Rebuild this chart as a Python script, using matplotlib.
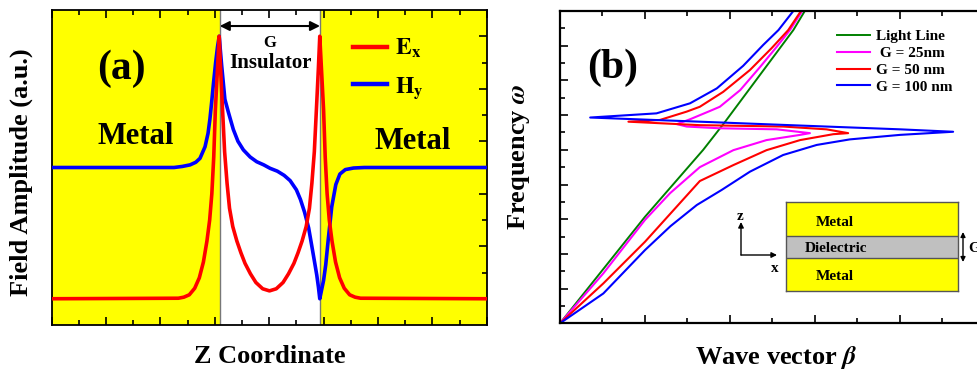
import numpy as np
import matplotlib
matplotlib.use("Agg")
import matplotlib.pyplot as plt
from matplotlib.ticker import MultipleLocator, FixedLocator
from matplotlib.lines import Line2D
from matplotlib.patches import FancyArrowPatch

plt.rcParams['font.family'] = ['Liberation Serif', 'DejaVu Serif']
plt.rcParams['font.weight'] = 'bold'
plt.rcParams['axes.labelweight'] = 'bold'
plt.rcParams['mathtext.fontset'] = 'stix'

# ---- panel (a): field profiles across the metal/insulator/metal gap ----
gap_left, gap_right = 6.18, 9.87

ex_z = [0, 4.66, 4.86, 5.06, 5.26, 5.43, 5.58, 5.71, 5.81, 5.89, 5.96, 6.02, 6.10, 6.16,
        6.21, 6.27, 6.36, 6.45, 6.54, 6.66, 6.81, 6.96, 7.11, 7.31, 7.51, 7.76, 8.01,
        8.26, 8.51, 8.71, 8.91, 9.06, 9.21, 9.36, 9.48, 9.57, 9.66, 9.75, 9.81, 9.86,
        9.92, 10.0, 10.06, 10.13, 10.21, 10.31, 10.44, 10.59, 10.76, 10.96, 11.16, 11.36, 16]
ex_val = [1.0, 1.02, 1.06, 1.15, 1.4, 1.8, 2.4, 3.2, 4.0, 5.0, 6.4, 8.2, 9.8, 11.0,
          9.8, 8.5, 6.6, 5.4, 4.45, 3.75, 3.2, 2.75, 2.35, 1.95, 1.62, 1.38, 1.3,
          1.38, 1.62, 1.95, 2.35, 2.75, 3.2, 3.75, 4.45, 5.4, 6.6, 8.5, 9.8, 11.0,
          9.8, 8.2, 6.4, 5.0, 4.0, 3.2, 2.4, 1.8, 1.4, 1.15, 1.06, 1.02, 1.0]

hy_z = [0, 4.5, 4.8, 5.09, 5.3, 5.455, 5.64, 5.75, 5.82, 5.88, 5.95, 6.03, 6.1, 6.16,
        6.25, 6.37, 6.5, 6.68, 6.85, 7.05, 7.3, 7.54, 7.8, 8.03, 8.3, 8.55, 8.77, 9.0,
        9.15, 9.3, 9.45, 9.56, 9.66, 9.75, 9.81, 9.86,
        9.92, 10.0, 10.08, 10.17, 10.3, 10.45, 10.6, 10.8, 11.1, 11.5, 16]
hy_val = [6.0, 6.0, 6.04, 6.1, 6.2, 6.35, 6.79, 7.3, 7.85, 8.45, 9.2, 10.0, 10.6, 11.0,
          9.9, 8.6, 8.1, 7.45, 7.0, 6.67, 6.4, 6.22, 6.1, 5.97, 5.86, 5.7, 5.5, 5.15,
          4.78, 4.3, 3.7, 3.05, 2.45, 1.9, 1.45, 1.0,
          1.3, 1.7, 2.3, 3.24, 4.5, 5.35, 5.75, 5.92, 5.98, 6.0, 6.0]

# ---- panel (b): dispersion curves ----
light_beta = [0, 2.0, 3.37, 3.88, 5.49, 5.76]
light_omega = [0, 3.07, 5.0, 5.8, 8.45, 9.0]

g25_beta = [0, 1.02, 2.0, 2.59, 3.29, 4.08, 4.86, 5.65, 5.88, 5.10, 3.76, 2.98, 2.75,
            3.06, 3.53, 3.76, 4.24, 4.71, 5.10, 5.41, 5.70]
g25_omega = [0, 1.44, 2.98, 3.75, 4.5, 4.99, 5.28, 5.43, 5.48, 5.59, 5.62, 5.67, 5.74,
             5.88, 6.12, 6.24, 6.72, 7.39, 7.97, 8.45, 9.0]

g50_beta = [0, 1.02, 2.0, 3.29, 4.08, 4.86, 5.65, 6.43, 6.78, 6.27, 5.25, 3.29, 1.61,
            2.35, 2.98, 3.29, 3.84, 4.47, 4.98, 5.37, 5.67]
g50_omega = [0, 1.15, 2.35, 4.1, 4.56, 4.99, 5.28, 5.45, 5.48, 5.59, 5.67, 5.71, 5.81,
             5.86, 6.10, 6.24, 6.67, 7.30, 7.93, 8.45, 9.0]

g100_beta = [0, 1.02, 2.0, 2.6, 3.22, 3.8, 4.47, 5.25, 6.04, 6.82, 8.0, 9.25, 8.0, 6.27,
             3.29, 0.71, 2.27, 3.06, 3.69, 4.31, 4.78, 5.14, 5.49]
g100_omega = [0, 0.86, 2.11, 2.8, 3.41, 3.84, 4.37, 4.85, 5.14, 5.30, 5.43, 5.52, 5.59, 5.67,
              5.81, 5.93, 6.05, 6.34, 6.77, 7.42, 8.02, 8.45, 9.0]

legend_b = ['Light Line', ' G = 25nm', 'G = 50 nm', 'G = 100 nm']

W, H = 978, 369
fig = plt.figure(figsize=(W / 100, H / 100), dpi=100)

# ================= (a) =================
ax = fig.add_axes([51.7 / W, 1 - 325 / H, 435 / W, 315 / H])
ax.set_xlim(0, 16)
ax.set_ylim(0, 12)
ax.axvspan(0, gap_left, color='#ffff00', lw=0, zorder=0)
ax.axvspan(gap_right, 16, color='#ffff00', lw=0, zorder=0)
ax.axvline(gap_left, color='#777777', lw=1, zorder=1)
ax.axvline(gap_right, color='#777777', lw=1, zorder=1)

ax.plot(hy_z, hy_val, color='#0000ff', lw=2.6, zorder=3)
ax.plot(ex_z, ex_val, color='#ff0000', lw=2.6, zorder=4)

ax.annotate('', xy=(gap_left, 11.39), xytext=(gap_right, 11.39),
            arrowprops=dict(arrowstyle='<|-|>', color='black', lw=1.5,
                            mutation_scale=14, shrinkA=0, shrinkB=0))
ax.text(8.03, 10.74, 'G', ha='center', va='center', fontsize=12)
ax.text(8.03, 10.0, 'Insulator', ha='center', va='center', fontsize=15)
ax.text(2.58, 9.78, '(a)', ha='center', va='center', fontsize=30)
ax.text(3.1, 7.17, 'Metal', ha='center', va='center', fontsize=22)
ax.text(13.26, 6.98, 'Metal', ha='center', va='center', fontsize=22)

handles = [Line2D([], [], color='#ff0000', lw=3.2), Line2D([], [], color='#0000ff', lw=3.2)]
ax.legend(handles, [r'$\mathbf{E_x}$', r'$\mathbf{H_y}$'], loc='upper left',
          bbox_to_anchor=(0.692, 0.915), frameon=False, fontsize=17,
          handlelength=1.45, handletextpad=0.35, labelspacing=0.62,
          borderpad=0, borderaxespad=0)

ax.xaxis.set_major_locator(MultipleLocator(2))
ax.xaxis.set_minor_locator(MultipleLocator(1))
ax.yaxis.set_major_locator(FixedLocator([1, 3, 5, 7, 9, 11]))
ax.yaxis.set_minor_locator(FixedLocator([2, 4, 6, 8, 10]))
ax.tick_params(which='both', direction='in', top=True, right=True, left=False,
               labelbottom=False, labelleft=False, width=1.2)
ax.tick_params(which='major', length=6)
ax.tick_params(which='minor', length=3.5)
for s in ax.spines.values():
    s.set_linewidth(1.3)

ax.set_xlabel('Z Coordinate', fontsize=19, fontweight='bold')
ax.xaxis.set_label_coords(0.502, -0.063)
ax.set_ylabel('Field Amplitude (a.u.)', fontsize=19, fontweight='bold')
ax.yaxis.set_label_coords(-0.042, 0.486)

# ================= (b) =================
bx = fig.add_axes([560 / W, 1 - 323.3 / H, 425 / W, 312.3 / H])
bx.set_xlim(0, 10)
bx.set_ylim(0, 9)
bx.plot(light_beta, light_omega, color='#008000', lw=1.4, label=legend_b[0])
bx.plot(g25_beta, g25_omega, color='#ff00ff', lw=1.5, label=legend_b[1])
bx.plot(g50_beta, g50_omega, color='#ff0000', lw=1.5, label=legend_b[2])
bx.plot(g100_beta, g100_omega, color='#0000ff', lw=1.5, label=legend_b[3])

bx.legend(loc='upper left', bbox_to_anchor=(0.652, 0.94), frameon=False, fontsize=11,
          handlelength=2.15, handletextpad=0.4, labelspacing=0.2,
          borderpad=0, borderaxespad=0)
bx.text(1.25, 7.37, '(b)', ha='center', va='center', fontsize=30)

bx.xaxis.set_major_locator(MultipleLocator(2))
bx.xaxis.set_minor_locator(MultipleLocator(1))
bx.yaxis.set_major_locator(MultipleLocator(1))
bx.yaxis.set_minor_locator(MultipleLocator(0.5))
bx.tick_params(which='both', direction='in', top=True, right=True,
               labelbottom=False, labelleft=False, width=1.2)
bx.tick_params(which='major', length=6)
bx.tick_params(which='minor', length=3.5)
for s in bx.spines.values():
    s.set_linewidth(1.6)

bx.set_xlabel(r'Wave vector $\beta$', fontsize=19, fontweight='bold')
bx.xaxis.set_label_coords(0.51, -0.066)
bx.set_ylabel(r'Frequency $\omega$', fontsize=19, fontweight='bold')
bx.yaxis.set_label_coords(-0.067, 0.532)

# inset sketch of the waveguide
ins = fig.add_axes([786 / W, 1 - 291 / H, 172 / W, 89 / H])
ins.set_xlim(0, 1)
ins.set_ylim(0, 89)
ins.axhspan(0, 33, color='#ffff00', lw=0)
ins.axhspan(33, 55, color='#c0c0c0', lw=0)
ins.axhspan(55, 89, color='#ffff00', lw=0)
ins.axhline(33, color='#555555', lw=1)
ins.axhline(55, color='#555555', lw=1)
ins.set_xticks([])
ins.set_yticks([])
for s in ins.spines.values():
    s.set_color('#555555')
    s.set_linewidth(1)
ins.text(0.285, 68, 'Metal', ha='center', va='center', fontsize=11)
ins.text(0.29, 43, 'Dielectric', ha='center', va='center', fontsize=11)
ins.text(0.285, 14, 'Metal', ha='center', va='center', fontsize=11)

arr = dict(arrowstyle='-|>', color='black', lw=1, mutation_scale=8, shrinkA=0, shrinkB=0)
fig.add_artist(FancyArrowPatch((741, 114), (741, 147), transform=None, **arr))
fig.add_artist(FancyArrowPatch((741, 114), (777, 114), transform=None, **arr))
fig.text(740 / W, 152 / H, 'z', ha='center', va='center', fontsize=11)
fig.text(775 / W, 101 / H, 'x', ha='center', va='center', fontsize=11)
arr2 = dict(arrowstyle='<|-|>', color='black', lw=1, mutation_scale=7, shrinkA=0, shrinkB=0)
fig.add_artist(FancyArrowPatch((963, 107), (963, 137), transform=None, **arr2))
fig.text(968 / W, 121 / H, 'G', ha='left', va='center', fontsize=11)

fig.savefig('out.png', dpi=100)
